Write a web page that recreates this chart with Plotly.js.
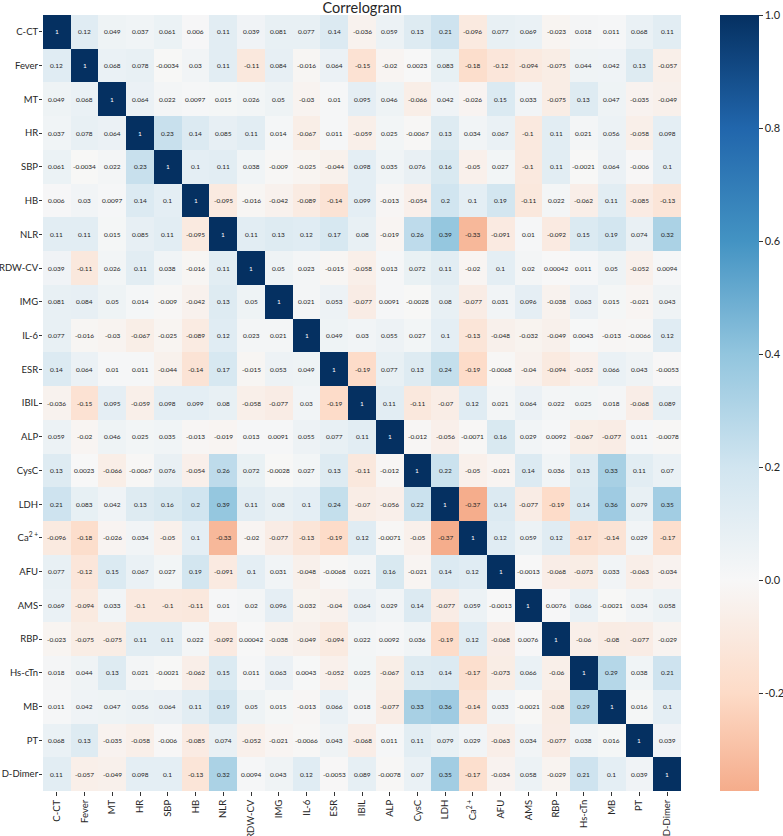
<!DOCTYPE html>
<html>
<head>
<meta charset="utf-8">
<script src="https://cdn.plot.ly/plotly-3.0.1.min.js"></script>
<style>body{margin:0;padding:0;background:#fff;}#chart{width:783px;height:836px;}</style>
</head>
<body>
<div id="chart"></div>
<script>
const labels = ["C-CT","Fever","MT","HR","SBP","HB","NLR","RDW-CV","IMG","IL-6","ESR","IBIL","ALP","CysC","LDH","Ca<sup>2 +</sup>","AFU","AMS","RBP","Hs-cTn","MB","PT","D-Dimer"];

const rowCCT    = [1,0.12,0.049,0.037,0.061,0.006,0.11,0.039,0.081,0.077,0.14,-0.036,0.059,0.13,0.21,-0.096,0.077,0.069,-0.023,0.018,0.011,0.068,0.11];
const rowFever  = [0.12,1,0.068,0.078,-0.0034,0.03,0.11,-0.11,0.084,-0.016,0.064,-0.15,-0.02,0.0023,0.083,-0.18,-0.12,-0.094,-0.075,0.044,0.042,0.13,-0.057];
const rowMT     = [0.049,0.068,1,0.064,0.022,0.0097,0.015,0.026,0.05,-0.03,0.01,0.095,0.046,-0.066,0.042,-0.026,0.15,0.033,-0.075,0.13,0.047,-0.035,-0.049];
const rowHR     = [0.037,0.078,0.064,1,0.23,0.14,0.085,0.11,0.014,-0.067,0.011,-0.059,0.025,-0.0067,0.13,0.034,0.067,-0.1,0.11,0.021,0.056,-0.058,0.098];
const rowSBP    = [0.061,-0.0034,0.022,0.23,1,0.1,0.11,0.038,-0.009,-0.025,-0.044,0.098,0.035,0.076,0.16,-0.05,0.027,-0.1,0.11,-0.0021,0.064,-0.006,0.1];
const rowHB     = [0.006,0.03,0.0097,0.14,0.1,1,-0.095,-0.016,-0.042,-0.089,-0.14,0.099,-0.013,-0.054,0.2,0.1,0.19,-0.11,0.022,-0.062,0.11,-0.085,-0.13];
const rowNLR    = [0.11,0.11,0.015,0.085,0.11,-0.095,1,0.11,0.13,0.12,0.17,0.08,-0.019,0.26,0.39,-0.33,-0.091,0.01,-0.092,0.15,0.19,0.074,0.32];
const rowRDW    = [0.039,-0.11,0.026,0.11,0.038,-0.016,0.11,1,0.05,0.023,-0.015,-0.058,0.013,0.072,0.11,-0.02,0.1,0.02,0.00042,0.011,0.05,-0.052,0.0094];
const rowIMG    = [0.081,0.084,0.05,0.014,-0.009,-0.042,0.13,0.05,1,0.021,0.053,-0.077,0.0091,-0.0028,0.08,-0.077,0.031,0.096,-0.038,0.063,0.015,-0.021,0.043];
const rowIL6    = [0.077,-0.016,-0.03,-0.067,-0.025,-0.089,0.12,0.023,0.021,1,0.049,0.03,0.055,0.027,0.1,-0.13,-0.048,-0.032,-0.049,0.0043,-0.013,-0.0066,0.12];
const rowESR    = [0.14,0.064,0.01,0.011,-0.044,-0.14,0.17,-0.015,0.053,0.049,1,-0.19,0.077,0.13,0.24,-0.19,-0.0068,-0.04,-0.094,-0.052,0.066,0.043,-0.0053];
const rowIBIL   = [-0.036,-0.15,0.095,-0.059,0.098,0.099,0.08,-0.058,-0.077,0.03,-0.19,1,0.11,-0.11,-0.07,0.12,0.021,0.064,0.022,0.025,0.018,-0.068,0.089];
const rowALP    = [0.059,-0.02,0.046,0.025,0.035,-0.013,-0.019,0.013,0.0091,0.055,0.077,0.11,1,-0.012,-0.056,-0.0071,0.16,0.029,0.0092,-0.067,-0.077,0.011,-0.0078];
const rowCysC   = [0.13,0.0023,-0.066,-0.0067,0.076,-0.054,0.26,0.072,-0.0028,0.027,0.13,-0.11,-0.012,1,0.22,-0.05,-0.021,0.14,0.036,0.13,0.33,0.11,0.07];
const rowLDH    = [0.21,0.083,0.042,0.13,0.16,0.2,0.39,0.11,0.08,0.1,0.24,-0.07,-0.056,0.22,1,-0.37,0.14,-0.077,-0.19,0.14,0.36,0.079,0.35];
const rowCa     = [-0.096,-0.18,-0.026,0.034,-0.05,0.1,-0.33,-0.02,-0.077,-0.13,-0.19,0.12,-0.0071,-0.05,-0.37,1,0.12,0.059,0.12,-0.17,-0.14,0.029,-0.17];
const rowAFU    = [0.077,-0.12,0.15,0.067,0.027,0.19,-0.091,0.1,0.031,-0.048,-0.0068,0.021,0.16,-0.021,0.14,0.12,1,-0.0013,-0.068,-0.073,0.033,-0.063,-0.034];
const rowAMS    = [0.069,-0.094,0.033,-0.1,-0.1,-0.11,0.01,0.02,0.096,-0.032,-0.04,0.064,0.029,0.14,-0.077,0.059,-0.0013,1,0.0076,0.066,-0.0021,0.034,0.058];
const rowRBP    = [-0.023,-0.075,-0.075,0.11,0.11,0.022,-0.092,0.00042,-0.038,-0.049,-0.094,0.022,0.0092,0.036,-0.19,0.12,-0.068,0.0076,1,-0.06,-0.08,-0.077,-0.029];
const rowHscTn  = [0.018,0.044,0.13,0.021,-0.0021,-0.062,0.15,0.011,0.063,0.0043,-0.052,0.025,-0.067,0.13,0.14,-0.17,-0.073,0.066,-0.06,1,0.29,0.038,0.21];
const rowMB     = [0.011,0.042,0.047,0.056,0.064,0.11,0.19,0.05,0.015,-0.013,0.066,0.018,-0.077,0.33,0.36,-0.14,0.033,-0.0021,-0.08,0.29,1,0.016,0.1];
const rowPT     = [0.068,0.13,-0.035,-0.058,-0.006,-0.085,0.074,-0.052,-0.021,-0.0066,0.043,-0.068,0.011,0.11,0.079,0.029,-0.063,0.034,-0.077,0.038,0.016,1,0.039];
const rowDDimer = [0.11,-0.057,-0.049,0.098,0.1,-0.13,0.32,0.0094,0.043,0.12,-0.0053,0.089,-0.0078,0.07,0.35,-0.17,-0.034,0.058,-0.029,0.21,0.1,0.039,1];

const colorbarTicks = [-0.2,0.0,0.2,0.4,0.6,0.8,1.0];

const z = [rowCCT,rowFever,rowMT,rowHR,rowSBP,rowHB,rowNLR,rowRDW,rowIMG,rowIL6,rowESR,rowIBIL,rowALP,rowCysC,rowLDH,rowCa,rowAFU,rowAMS,rowRBP,rowHscTn,rowMB,rowPT,rowDDimer];

const zmin = -0.373, zmax = 1;
const FONT = 'Lato, "Open Sans", sans-serif';
// seaborn RdBu centred at 0 (range -1..1), truncated to [zmin, zmax]
const rdbu = [[-1,'#67001f'],[-0.8,'#b2182b'],[-0.6,'#d6604d'],[-0.4,'#f4a582'],[-0.2,'#fddbc7'],[0,'#f7f7f7'],[0.2,'#d1e5f0'],[0.4,'#92c5de'],[0.6,'#4393c3'],[0.8,'#2166ac'],[1,'#053061']];
function hex2rgb(h){return [parseInt(h.slice(1,3),16),parseInt(h.slice(3,5),16),parseInt(h.slice(5,7),16)];}
function interp(v){
  for(let i=0;i<rdbu.length-1;i++){
    const a=rdbu[i],b=rdbu[i+1];
    if(v>=a[0]&&v<=b[0]){
      const t=(v-a[0])/(b[0]-a[0]);const ca=hex2rgb(a[1]),cb=hex2rgb(b[1]);
      return 'rgb('+ca.map((c,k)=>Math.round(c+(cb[k]-c)*t)).join(',')+')';
    }
  }
  return rdbu[rdbu.length-1][1];
}
const cs=[];
const stops=[zmin].concat(rdbu.map(r=>r[0]).filter(v=>v>zmin));
stops.forEach(v=>cs.push([(v-zmin)/(zmax-zmin), interp(v)]));
cs[cs.length-1][0]=1;

const xs = labels.map((_,i)=>i), ys = labels.map((_,i)=>i);
const annotations=[];
z.forEach((row,i)=>row.forEach((v,j)=>{
  annotations.push({x:j,y:i,xref:'x',yref:'y',text:String(Number(v.toPrecision(2))),showarrow:false,
    font:{family:FONT,size:6.5,color: v>0.6 ? '#ffffff' : '#262626'}});
}));

const data=[{type:'heatmap',z:z,x:xs,y:ys,zmin:zmin,zmax:zmax,colorscale:cs,xgap:0,ygap:0,hoverinfo:'skip',
  colorbar:{x:1.0455,xanchor:'left',xref:'paper',xpad:10,ypad:0,y:0.5,yanchor:'middle',len:1,lenmode:'fraction',thickness:39,outlinewidth:0,
    tickvals:colorbarTicks,ticktext:colorbarTicks.map(v=>v.toFixed(1)),ticks:'outside',ticklen:4,tickcolor:'#333',
    tickfont:{family:FONT,size:11,color:'#262626'}}}];

const layout={width:783,height:836,margin:{l:43,r:102,t:15,b:45,autoexpand:false},
  paper_bgcolor:'#fff',plot_bgcolor:'#fff',
  title:{text:'Correlogram',x:0.4625,xanchor:'center',y:0.9965,yanchor:'top',font:{family:FONT,size:14.5,color:'#262626'}},
  xaxis:{tickvals:xs,ticktext:labels,tickangle:-90,ticks:'outside',ticklen:4,tickcolor:'#333',showgrid:false,zeroline:false,automargin:false,
    range:[-0.5,22.5],tickfont:{family:FONT,size:9.5,color:'#262626'},showline:false},
  yaxis:{tickvals:ys,ticktext:labels,ticks:'outside',ticklen:3,tickcolor:'#333',showgrid:false,zeroline:false,automargin:false,
    ticklabelstandoff:-1,range:[22.5,-0.5],tickfont:{family:FONT,size:9.5,color:'#262626'},showline:false},
  annotations:annotations};
Plotly.newPlot('chart',data,layout,{displayModeBar:false,staticPlot:true});
</script>
</body>
</html>
